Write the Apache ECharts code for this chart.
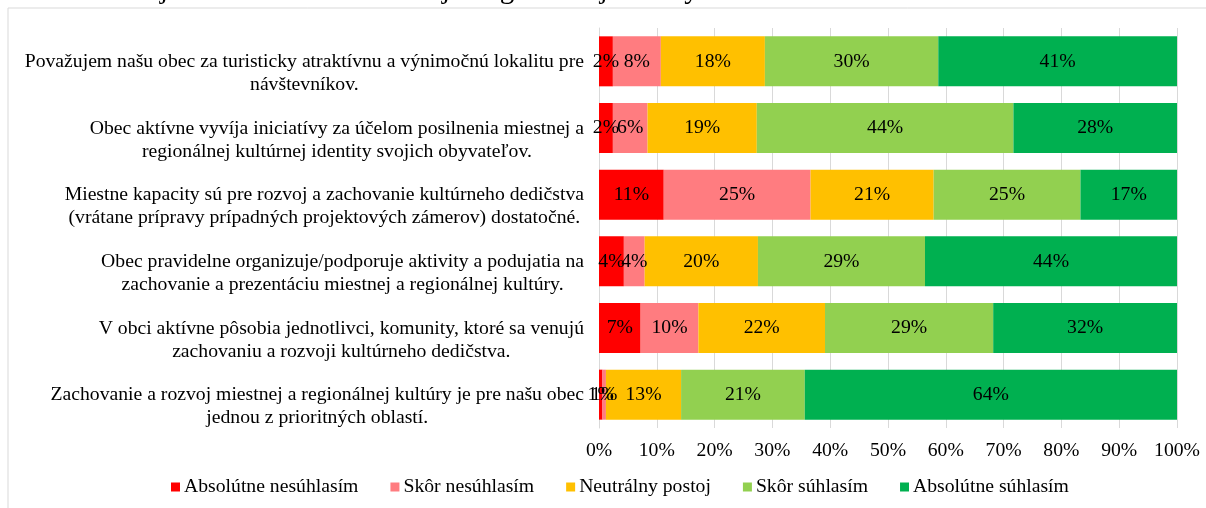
<!DOCTYPE html>
<html>
<head>
<meta charset="utf-8">
<script src="https://cdn.jsdelivr.net/npm/echarts@6/dist/echarts.min.js"></script>
<style>
  html, body { margin: 0; padding: 0; background: #fff; }
  #chart { width: 1206px; height: 508px; }
</style>
</head>
<body>
<div id="chart"></div>
<script>
// otázky (kategórie), dva riadky na každú
const categories = [
  'Považujem našu obec za turisticky atraktívnu a výnimočnú lokalitu pre\nnávštevníkov.',
  'Obec aktívne vyvíja iniciatívy za účelom posilnenia miestnej a\nregionálnej kultúrnej identity svojich obyvateľov.',
  'Miestne kapacity sú pre rozvoj a zachovanie kultúrneho dedičstva\n(vrátane prípravy prípadných projektových zámerov) dostatočné.',
  'Obec pravidelne organizuje/podporuje aktivity a podujatia na\nzachovanie a prezentáciu miestnej a regionálnej kultúry.',
  'V obci aktívne pôsobia jednotlivci, komunity, ktoré sa venujú\nzachovaniu a rozvoji kultúrneho dedičstva.',
  'Zachovanie a rozvoj miestnej a regionálnej kultúry je pre našu obec\njednou z prioritných oblastí.'
];

const seriesNames = ['Absolútne nesúhlasím', 'Skôr nesúhlasím', 'Neutrálny postoj', 'Skôr súhlasím', 'Absolútne súhlasím'];
const colors = ['#ff0000', '#ff7c80', '#ffc000', '#92d050', '#00b050'];

// percentá v poradí kategórií
const absNesuhlas = [2.4, 2.4, 11.2, 4.3, 7.2, 0.6];
const skorNesuhlas = [8.3, 6.0, 25.4, 3.6, 10.0, 0.6];
const neutralny = [18.0, 18.9, 21.3, 19.6, 21.9, 13.0];
const skorSuhlas = [30.0, 44.4, 25.4, 28.9, 29.1, 21.4];
const absSuhlas = [41.3, 28.3, 16.7, 43.6, 31.8, 64.4];

const xTicks = [0, 10, 20, 30, 40, 50, 60, 70, 80, 90, 100];

const values = [absNesuhlas, skorNesuhlas, neutralny, skorSuhlas, absSuhlas];
const font = 'Liberation Serif';
const fs = 19.7;

const chart = echarts.init(document.getElementById('chart'));

chart.setOption({
  backgroundColor: '#fff',
  animation: false,
  color: colors,
  graphic: [
    {
      type: 'rect',
      shape: { x: 8, y: 8, width: 1240, height: 540 },
      style: { fill: 'none', stroke: '#d9d9d9', lineWidth: 1 },
      silent: true
    },
    {
      type: 'text',
      left: 0,
      top: -24,
      style: {
        text: 'Graf 11 Postoje obcí v oblasti miestnej a regionálnej kultúry',
        font: '29px "Liberation Serif"',
        fill: '#000'
      }
    }
  ],
  grid: { left: 599, right: 29, top: 28, bottom: 80 },
  legend: {
    bottom: 6,
    left: 166,
    icon: 'rect',
    itemWidth: 9,
    itemHeight: 9,
    itemGap: 32,
    textStyle: { fontFamily: font, fontSize: fs, color: '#000', padding: [0, 0, 0, -1] },
    data: seriesNames
  },
  xAxis: {
    type: 'value',
    min: xTicks[0],
    max: xTicks[xTicks.length - 1],
    interval: 10,
    axisLine: { show: false },
    axisTick: { show: false },
    splitLine: { lineStyle: { color: '#d9d9d9' } },
    axisLabel: { formatter: '{value}%', fontFamily: font, fontSize: fs, color: '#000', margin: 13 }
  },
  yAxis: {
    type: 'category',
    inverse: true,
    data: categories,
    axisLine: { show: true, lineStyle: { color: '#d9d9d9' } },
    axisTick: { show: false },
    axisLabel: {
      interval: 0,
      margin: 15,
      fontFamily: font,
      fontSize: fs,
      color: '#000',
      lineHeight: 23,
      padding: [24, 0, 0, 0],
      formatter: function (v) {
        return v.split('\n').map(function (l) { return '{c|' + l + '}'; }).join('\n');
      },
      rich: { c: { align: 'center', fontFamily: font, fontSize: fs, lineHeight: 23, color: '#000' } }
    }
  },
  series: seriesNames.map(function (name, i) {
    return {
      name: name,
      type: 'bar',
      stack: 'total',
      barCategoryGap: '25%',
      data: values[i],
      label: {
        show: true,
        position: 'inside',
        fontFamily: font,
        fontSize: fs,
        color: '#000',
        formatter: function (p) { return Math.round(p.value) + '%'; }
      }
    };
  })
});
</script>
</body>
</html>
